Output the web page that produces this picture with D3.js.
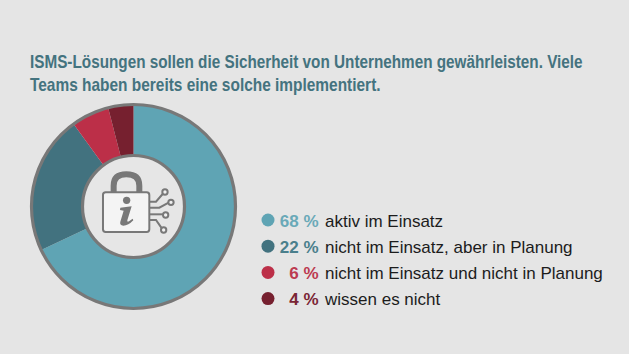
<!DOCTYPE html>
<html lang="de">
<head>
<meta charset="utf-8">
<script src="https://cdn.jsdelivr.net/npm/d3@7"></script>
<style>
  html, body { margin: 0; padding: 0; background: #e5e5e5; }
  svg { display: block; }
  text { font-family: "Liberation Sans", Arial, sans-serif; }
</style>
</head>
<body>
<div id="chart"></div>
<script>
// ISMS donut, legend on the right
const titleLines = [
  "ISMS-Lösungen sollen die Sicherheit von Unternehmen gewährleisten. Viele",
  "Teams haben bereits eine solche implementiert."
];
const titleWidths = [553, 351]; // the original face is condensed, squeeze to fit
const categories = [
  "aktiv im Einsatz",
  "nicht im Einsatz, aber in Planung",
  "nicht im Einsatz und nicht in Planung",
  "wissen es nicht"
];
const values = [68, 22, 6, 4];
const colors = ["#5fa4b4", "#42727f", "#bc2f48", "#76202f"];
const textColors = ["#6aa9b8", "#4a7f8c", "#bc3a50", "#7a2535"];

const width = 629, height = 354;
const cx = 133.5, cy = 206.5, rOuter = 102, rInner = 51;
const grey = "#787878";

const svg = d3.select("#chart").append("svg")
  .attr("width", width).attr("height", height)
  .attr("viewBox", `0 0 ${width} ${height}`);

svg.append("rect").attr("width", width).attr("height", height).attr("fill", "#e5e5e5");

// Title
svg.selectAll("text.title").data(titleLines).join("text")
  .attr("class", "title")
  .attr("fill", "#44737f")
  .attr("font-size", 19)
  .attr("font-weight", 700)
  .text(d => d)
  .attr("transform", function(d, i) {
    const k = titleWidths[i] / this.getComputedTextLength();
    return `translate(30,${68 + i * 23}) scale(${k},1)`;
  });

// Donut
const pie = d3.pie().sort(null)(values);
const arc = d3.arc().innerRadius(rInner).outerRadius(rOuter);
const gDonut = svg.append("g").attr("transform", `translate(${cx},${cy})`);

gDonut.selectAll("path.slice").data(pie).join("path")
  .attr("class", "slice")
  .attr("d", arc)
  .attr("fill", (d, i) => colors[i]);

gDonut.append("circle").attr("r", rOuter)
  .attr("fill", "none").attr("stroke", grey).attr("stroke-width", 3.2);
gDonut.append("circle").attr("r", rInner)
  .attr("fill", "#e6e6e6").attr("stroke", grey).attr("stroke-width", 3.2);

// Lock icon, drawn in 3x units
const icon = svg.append("g").attr("transform", "translate(20,95) scale(0.3333)");
icon.append("path")
  .attr("d", "M281,295 V272 Q281,238 319,238 Q358,238 358,272 V295")
  .attr("fill", "none").attr("stroke", grey).attr("stroke-width", 18);
icon.append("rect")
  .attr("x", 249).attr("y", 292).attr("width", 139).attr("height", 119).attr("rx", 8)
  .attr("fill", "#f4f4f4").attr("stroke", grey).attr("stroke-width", 6);
icon.append("circle").attr("cx", 320).attr("cy", 316).attr("r", 11).attr("fill", grey);
icon.append("path")
  .attr("d", "M301,338 L335,334 L322,376 Q321,382 327,379 L338,371 L340,376 Q325,392 310,392 Q298,391 301,380 L311,347 L300,345 Z")
  .attr("fill", grey);

const traces = [
  "M388,320 H408 L428,297",
  "M388,338 H418 L446,323",
  "M388,358 H428",
  "M388,375 H408 L424,398"
];
const nodes = [[435, 291], [453, 322], [437, 360], [431, 405]];
icon.selectAll("path.trace").data(traces).join("path")
  .attr("class", "trace").attr("d", d => d)
  .attr("fill", "none").attr("stroke", grey).attr("stroke-width", 6);
icon.selectAll("circle.node").data(nodes).join("circle")
  .attr("class", "node")
  .attr("cx", d => d[0]).attr("cy", d => d[1]).attr("r", 8)
  .attr("fill", "#f0f0f0").attr("stroke", grey).attr("stroke-width", 6);

// Legend
const rows = svg.selectAll("g.row").data(categories).join("g")
  .attr("class", "row")
  .attr("transform", (d, i) => `translate(0,${220 + i * 26.2})`);

rows.append("circle")
  .attr("cx", 268).attr("r", 6.5)
  .attr("fill", (d, i) => colors[i]);

rows.append("text")
  .attr("x", 318.5).attr("y", 6.5)
  .attr("text-anchor", "end")
  .attr("font-size", 17)
  .attr("font-weight", 700)
  .attr("fill", (d, i) => textColors[i])
  .text((d, i) => `${values[i]} %`);

rows.append("text")
  .attr("x", 325).attr("y", 6.5)
  .attr("font-size", 17)
  .attr("fill", "#1c1c1c")
  .text(d => d);
</script>
</body>
</html>
